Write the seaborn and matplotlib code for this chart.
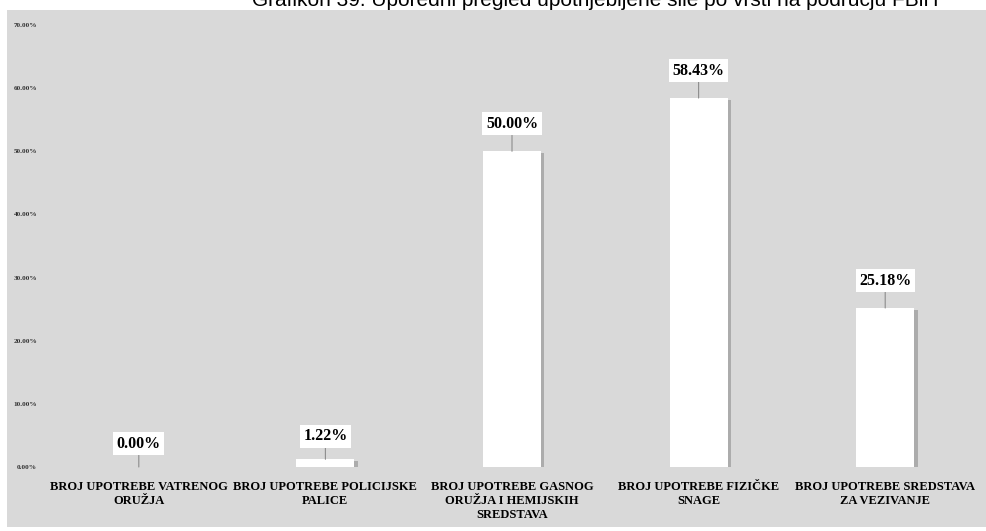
import matplotlib
matplotlib.use('Agg')
import matplotlib.pyplot as plt
import matplotlib.patheffects as pe
from matplotlib.patches import Rectangle
import seaborn as sns
import pandas as pd

categories = [
    'BROJ UPOTREBE VATRENOG\nORUŽJA',
    'BROJ UPOTREBE POLICIJSKE\nPALICE',
    'BROJ UPOTREBE GASNOG\nORUŽJA I HEMIJSKIH\nSREDSTAVA',
    'BROJ UPOTREBE FIZIČKE\nSNAGE',
    'BROJ UPOTREBE SREDSTAVA\nZA VEZIVANJE',
]
values = [0.00, 1.22, 50.00, 58.43, 25.18]
yticks = [0, 10, 20, 30, 40, 50, 60, 70]
title = 'Grafikon 39. Uporedni pregled upotrijebljene sile po vrsti na području FBiH'

df = pd.DataFrame({'kategorija': categories, 'procenat': values})

sns.set_style('white')
plt.rcParams['font.family'] = ['Liberation Serif', 'DejaVu Serif']

W, H = 986, 531
fig = plt.figure(figsize=(W / 100, H / 100), dpi=100, facecolor='white')

# gray chart area
fig.patches.append(Rectangle((7 / W, 4 / H), 1 - 7 / W, (527 - 10) / H,
                             transform=fig.transFigure, facecolor='#d9d9d9',
                             edgecolor='none', zorder=-5))

# title, cut off at the top like the source
fig.text(938 / W, 1 - 6 / H, title, ha='right', va='baseline',
         fontsize=15, family=['Liberation Sans', 'DejaVu Sans'], color='black')

ax = fig.add_axes([45.5 / W, (H - 467) / H, (978.5 - 45.5) / W, (467 - 25) / H])
ax.set_facecolor('none')
ax.set_zorder(2)

sns.barplot(data=df, x='kategorija', y='procenat', color='white',
            width=0.31, saturation=1, ax=ax)

for bar in ax.patches:
    bar.set_edgecolor('none')
    bar.set_path_effects([
        pe.SimplePatchShadow(offset=(2.5, -1.5), shadow_rgbFace='0.5', alpha=0.5),
        pe.Normal(),
    ])

for i, v in enumerate(values):
    ax.annotate(f'{v:.2f}%', xy=(i, v), xytext=(0, 11 if v < 5 else 14),
                textcoords='offset points',
                ha='center', va='bottom', fontsize=11.5, fontweight='bold',
                color='black',
                bbox=dict(boxstyle='square,pad=0.22', facecolor='white', edgecolor='none'),
                arrowprops=dict(arrowstyle='-', color='0.55', lw=0.8,
                                shrinkA=0, shrinkB=0))

ax.set_ylim(0, 70)
ax.set_yticks(yticks)
ax.set_yticklabels([f'{t:.2f}%' for t in yticks], fontsize=5.2, fontweight='bold',
                   color='#333333')
ax.tick_params(axis='y', length=0, pad=6)
ax.tick_params(axis='x', length=0, pad=10)
for lab in ax.get_xticklabels():
    lab.set_fontsize(9.0)
    lab.set_fontweight('bold')
    lab.set_linespacing(1.25)
    lab.set_color('black')
ax.set_xlabel('')
ax.set_ylabel('')
sns.despine(ax=ax, left=True, bottom=True)

fig.savefig('out.png', dpi=100)
